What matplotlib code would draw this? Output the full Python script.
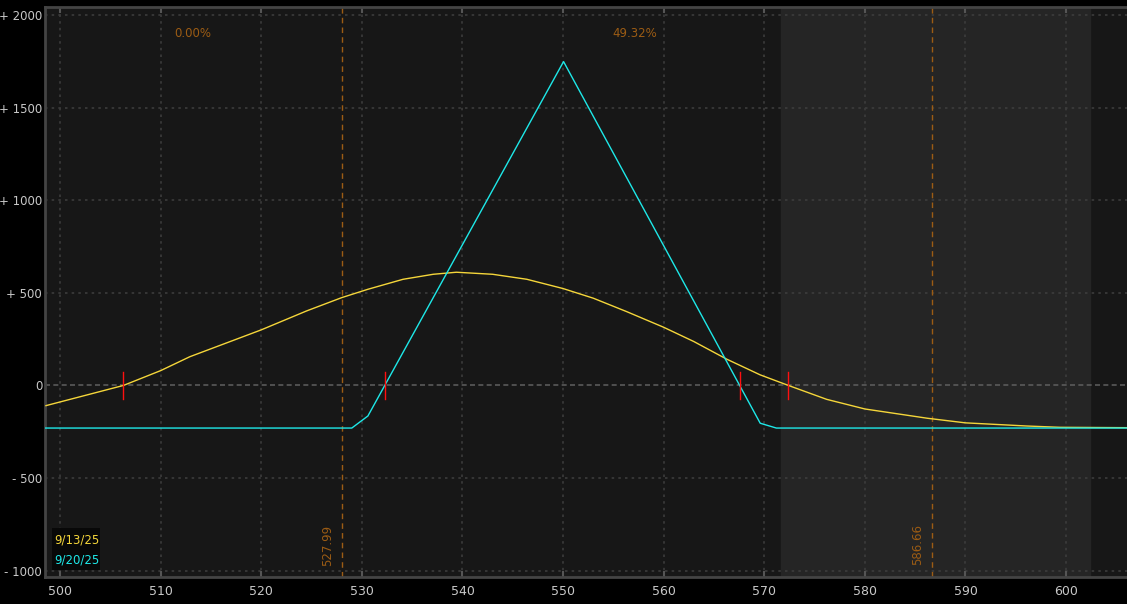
import matplotlib
matplotlib.use("Agg")
import matplotlib.pyplot as plt
from matplotlib.patches import Rectangle

# -----------------------------
# DATA
# -----------------------------
price_t0 = [498.6, 506.3, 510.0, 512.9, 520.0, 524.5, 528.0, 530.6, 534.1, 537.1,
            539.4, 543.0, 546.4, 550.0, 553.0, 556.3, 560.0, 563.0, 566.3, 569.6,
            572.4, 576.2, 580.0, 586.2, 590.0, 596.1, 599.4, 606.0]
pl_t0 = [-109, 0, 80, 155, 300, 402, 474, 519, 573, 600,
         611, 600, 573, 523, 471, 399, 314, 237, 141, 57,
         0, -75, -127, -177, -202, -219, -226, -228]

price_exp = [498.5, 529.0, 530.6, 550.05, 569.6, 571.2, 606.0]
pl_exp = [-230, -230, -165, 1748, -204, -230, -230]

breakevens = [506.3, 532.3, 567.6, 572.4]
std_lines = [527.99, 586.66]
std_labels = ["527.99", "586.66"]
prob_labels = ["0.00%", "49.32%"]
prob_x = [513.2, 557.1]
shade_range = (571.7, 602.4)
series_names = ["9/13/25", "9/20/25"]

x_ticks = [500, 510, 520, 530, 540, 550, 560, 570, 580, 590, 600]
y_ticks = [2000, 1500, 1000, 500, 0, -500, -1000]
y_tick_labels = ["+ 2000", "+ 1500", "+ 1000", "+ 500", "0", "- 500", "- 1000"]

YELLOW = "#f5d63a"
CYAN = "#1ee8e8"
ORANGE = "#9c5c14"
GRID = "#3c3c3c"

# -----------------------------
# FIGURE
# -----------------------------
fig = plt.figure(figsize=(11.27, 6.04), dpi=100, facecolor="black")
ax = fig.add_axes([0.0399, 0.0447, 0.9601, 0.9432])
ax.set_facecolor("#171717")
ax.set_xlim(498.5, 606.06)
ax.set_ylim(-1034, 2041)

ax.axvspan(*shade_range, color="#252525", zorder=0)

# grid
for x in x_ticks:
    ax.axvline(x, color=GRID, lw=1.2, ls=(0, (1.5, 2.5)), zorder=1)
for y in y_ticks:
    if y == 0:
        ax.axhline(0, color="#5a5a5a", lw=1.2, ls=(0, (3, 2)), zorder=1)
    else:
        ax.axhline(y, color=GRID, lw=1.2, ls=(0, (1.5, 2.5)), zorder=1)

# std dev lines and labels
for x, lab in zip(std_lines, std_labels):
    ax.axvline(x, color=ORANGE, lw=1, ls=(0, (4, 3)), zorder=2)
    ax.text(x - 1.4, -861, lab, rotation=90, color=ORANGE, fontsize=8.5,
            ha="center", va="center", zorder=3)

for x, lab in zip(prob_x, prob_labels):
    ax.text(x, 1900, lab, color=ORANGE, fontsize=8.5, ha="center", va="center")

# P/L curves
ax.plot(price_t0, pl_t0, color=YELLOW, lw=1, zorder=4)
ax.plot(price_exp, pl_exp, color=CYAN, lw=1, zorder=5)

# breakeven markers
for x in breakevens:
    ax.plot([x, x], [-74, 74], color="#ff1010", lw=1, zorder=6)

# legend box
ax.add_patch(Rectangle((0.0065, 0.012), 0.044, 0.074, transform=ax.transAxes,
                       facecolor="#080808", edgecolor="none", zorder=7))
ax.text(0.0085, 0.065, series_names[0], transform=ax.transAxes, color=YELLOW,
        fontsize=8.5, va="center", zorder=8)
ax.text(0.0085, 0.030, series_names[1], transform=ax.transAxes, color=CYAN,
        fontsize=8.5, va="center", zorder=8)

# axes styling
ax.set_xticks(x_ticks)
ax.set_yticks(y_ticks)
ax.set_yticklabels(y_tick_labels)
ax.tick_params(axis="x", colors="#c8c8c8", labelsize=9, length=4, width=1.5,
               direction="in", top=True, color="#555555", pad=6)
ax.tick_params(axis="y", colors="#c8c8c8", labelsize=8.5, length=0, pad=2)
for side in ["left", "bottom", "top"]:
    ax.spines[side].set_color("#444444")
    ax.spines[side].set_linewidth(2)
ax.spines["right"].set_visible(False)

fig.savefig("out.png", dpi=100, facecolor="black")
